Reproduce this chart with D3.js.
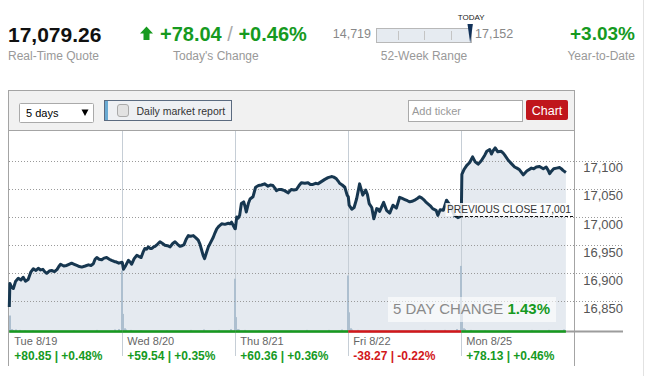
<!DOCTYPE html>
<meta charset="utf-8">
<style>
body { margin: 0; background: #fff; }
svg { display: block; font-family: "Liberation Sans", Arial, sans-serif; }
.grid line { stroke: #9a9a9a; stroke-dasharray: 1,2; shape-rendering: crispEdges; }
.yaxis text { fill: #555; font-size: 13px; }
.sub { fill: #999; font-size: 12px; }
.up { fill: #169a1f; }
.down { fill: #d2171b; }
</style>
<svg class="quote" width="648" height="376"></svg>

<script src="https://cdn.jsdelivr.net/npm/d3@7"></script>
<script>
var days = ["Tue 8/19", "Wed 8/20", "Thu 8/21", "Fri 8/22", "Mon 8/25"];
var dayChange = [80.85, 59.54, 60.36, -38.27, 78.13];
var dayPct = [0.48, 0.35, 0.36, -0.22, 0.46];
var priceTicks = [16850, 16900, 16950, 17000, 17050, 17100];
var prevClose = 17001.22;
var fiveDayPct = 1.43;

// [minutes after the 9:30 open, index level]
var tue = [[0,16840],[2,16882],[7,16876],[14,16873],[22,16886],[31,16891],[40,16888],[48,16893],[56,16886],[65,16889],[74,16902],[83,16908],[92,16905],[100,16909],[108,16906],[116,16907],[122,16903],[129,16900],[138,16904],[146,16905],[156,16903],[165,16907],[171,16912],[177,16916],[188,16913],[198,16914],[206,16916],[215,16918],[224,16916],[233,16914],[242,16912],[250,16911],[262,16913],[273,16915],[282,16914],[290,16917],[296,16925],[302,16928],[310,16925],[319,16924],[327,16927],[336,16928],[345,16925],[353,16923],[362,16921],[370,16920],[378,16918],[389,16919.6]];
var wed = [[0,16919],[4,16907],[12,16914],[21,16923],[27,16920],[32,16916],[41,16926],[50,16932],[57,16930],[65,16928],[72,16938],[78,16944],[84,16943],[90,16947],[96,16944],[102,16944],[108,16947],[113,16948],[122,16952],[130,16956],[139,16953],[147,16950],[156,16949],[165,16947],[174,16953],[182,16956],[190,16952],[199,16948],[206,16949],[213,16951],[220,16960],[228,16967],[236,16966],[245,16967],[254,16963],[262,16959],[268,16952],[274,16941],[279,16932],[284,16926],[290,16936],[297,16947],[305,16955],[314,16964],[320,16972],[326,16979],[334,16984],[343,16988],[354,16987],[366,16989],[372,16988],[377,16991],[383,16985],[389,16979]];
var thu = [[0,16979],[5,17000],[10,16998],[15,17003],[21,17024],[29,17027],[34,17018],[38,17009],[45,17024],[51,17032],[61,17036],[70,17053],[80,17056],[90,17057],[101,17059],[107,17057],[113,17055],[121,17057],[130,17056],[136,17052],[142,17047],[150,17049],[159,17049],[170,17047],[182,17043],[193,17049],[202,17048],[211,17049],[220,17056],[228,17061],[240,17060],[251,17061],[259,17058],[268,17058],[277,17060],[285,17059],[297,17063],[309,17067],[320,17070],[332,17072],[340,17071],[349,17068],[355,17064],[360,17060],[369,17057],[378,17053],[386,17039]];
var fri = [[0,17036],[3,17021],[12,17014],[20,17017],[29,17033],[39,17059],[44,17050],[50,17039],[60,17048],[66,17040],[72,17024],[81,17017],[88,16997],[98,17015],[103,17014],[108,17010],[115,17018],[122,17026],[132,17012],[143,17007],[154,17021],[166,17016],[172,17026],[177,17035],[186,17033],[195,17031],[204,17029],[212,17027],[220,17028],[229,17030],[238,17033],[246,17036],[253,17034],[260,17031],[267,17027],[274,17024],[283,17020],[291,17015],[303,17012],[309,17003],[317,17013],[328,17012],[339,17030],[347,17024],[355,17017],[366,17003],[378,16999],[387,17001.2]];
var mon = [[0,17003],[2,17076],[10,17085],[19,17092],[29,17097],[39,17107],[48,17098],[58,17094],[69,17100],[81,17110],[88,17117],[98,17120],[104,17112],[110,17118],[117,17123],[126,17116],[137,17117],[144,17114],[150,17110],[162,17101],[173,17095],[184,17089],[192,17087],[201,17084],[214,17075],[226,17082],[242,17087],[250,17086],[259,17089],[270,17090],[283,17086],[293,17089],[300,17083],[305,17077],[312,17082],[319,17086],[329,17087],[339,17088],[345,17086],[351,17083],[361,17079.3]];

// volume, 5-minute bars [minute, relative volume]
var tueVol = [[0,20],[5,3],[10,2],[20,2.5],[35,2],[50,1.5],[80,1.5],[140,1.5],[220,1.5],[300,2],[360,2.5],[375,3],[385,76]];
var wedVol = [[0,22],[5,4],[10,2.5],[25,2],[60,1.5],[150,1.5],[235,2],[280,2.5],[330,2],[370,3],[385,66]];
var thuVol = [[0,18],[5,3],[10,2.5],[30,2],[80,1.5],[190,1.5],[245,2],[320,2],[365,2.5],[385,70]];
var friVol = [[0,24],[5,4],[10,2.5],[30,2],[70,1.5],[170,1.5],[260,2],[330,2],[370,3],[385,82]];
var monVol = [[0,22],[5,4],[10,3],[30,2],[80,1.5],[160,1.5],[240,2],[300,2],[350,2.5]];

var svg = d3.select(".quote");
var fmt = d3.format(",.2f");
var green = "#169a1f", red = "#d2171b";

// ---------- header ----------
svg.append("text").attr("x", 8).attr("y", 42).style("font-size", "21px").style("font-weight", "bold")
  .attr("fill", "#111").text(fmt(17079.26));
svg.append("text").attr("class", "sub").attr("x", 8).attr("y", 60).text("Real-Time Quote");

svg.append("path").attr("d", "M140,33.5 L146.5,26.5 L153,33.5 L149.5,33.5 L149.5,40 L143.5,40 L143.5,33.5 Z").attr("fill", green);
var chg = svg.append("text").attr("x", 160).attr("y", 41).style("font-size", "20px").style("font-weight", "bold");
chg.append("tspan").attr("fill", green).text("+78.04");
chg.append("tspan").attr("fill", "#aaa").style("font-weight", "normal").text(" / ");
chg.append("tspan").attr("fill", green).text("+0.46%");
svg.append("text").attr("class", "sub").attr("x", 173).attr("y", 60).text("Today's Change");

// 52 week range
var rangeLow = 14719, rangeHigh = 17152, today = 17079.26;
var rx = d3.scaleLinear().domain([rangeLow, rangeHigh]).range([377, 471]);
svg.append("text").attr("x", 371).attr("y", 38).attr("text-anchor", "end").attr("fill", "#888").style("font-size", "12.5px").text(d3.format(",")(rangeLow));
svg.append("text").attr("x", 475).attr("y", 38).attr("fill", "#888").style("font-size", "12.5px").text(d3.format(",")(rangeHigh));
svg.append("rect").attr("x", 376.5).attr("y", 28.5).attr("width", 95).attr("height", 14).attr("fill", "#e6ebf1").attr("stroke", "#b8b8b8");
[0.23, 0.5, 0.78].forEach(function(f) {
  var xx = Math.round(376.5 + f * 95) + 0.5;
  svg.append("line").attr("x1", xx).attr("x2", xx).attr("y1", 31).attr("y2", 40).attr("stroke", "#c4c4c4");
});
var tx = rx(today) + 2;
svg.append("path").attr("d", "M" + (tx - 2.7) + ",24 L" + (tx + 2.7) + ",24 L" + tx + ",43 Z").attr("fill", "#12325a");
svg.append("text").attr("x", tx + 1).attr("y", 20).attr("text-anchor", "middle").attr("fill", "#222").style("font-size", "8px").text("TODAY");
svg.append("text").attr("class", "sub").attr("x", 424).attr("y", 60).attr("text-anchor", "middle").text("52-Week Range");

svg.append("text").attr("x", 635).attr("y", 40).attr("text-anchor", "end").attr("class", "up")
  .style("font-size", "19px").style("font-weight", "bold").text("+3.03%");
svg.append("text").attr("class", "sub").attr("x", 635).attr("y", 60).attr("text-anchor", "end").text("Year-to-Date");

svg.append("line").attr("x1", 643.5).attr("x2", 643.5).attr("y1", 0).attr("y2", 376).attr("stroke", "#e2e2e2");

// ---------- toolbar ----------
svg.append("rect").attr("x", 8.5).attr("y", 90.5).attr("width", 566).attr("height", 40).attr("fill", "#f1f1f1").attr("stroke", "#a4a4a4");
svg.append("rect").attr("x", 19.5).attr("y", 103.5).attr("width", 74).attr("height", 19).attr("fill", "#fff").attr("stroke", "#aaa").attr("rx", 1);
svg.append("text").attr("x", 26).attr("y", 117).style("font-size", "11px").attr("fill", "#000").text("5 days");
svg.append("path").attr("d", "M81.5,109.5 L88.5,109.5 L85,116 Z").attr("fill", "#000");

svg.append("rect").attr("x", 104.5).attr("y", 100.5).attr("width", 127).attr("height", 20).attr("fill", "#eef0f3").attr("stroke", "#5b6b80");
svg.append("rect").attr("x", 105).attr("y", 101).attr("width", 3).attr("height", 19).attr("fill", "#6aaad2");
svg.append("rect").attr("x", 117.5).attr("y", 104.5).attr("width", 11).attr("height", 12).attr("rx", 2.5).attr("fill", "#e2e2e2").attr("stroke", "#aaa");
svg.append("text").attr("x", 136.5).attr("y", 114.5).style("font-size", "10.5px").attr("fill", "#333").text("Daily market report");

svg.append("rect").attr("x", 408.5).attr("y", 100.5).attr("width", 114).attr("height", 21).attr("fill", "#fff").attr("stroke", "#aaa");
svg.append("text").attr("x", 412).attr("y", 115).style("font-size", "11px").attr("fill", "#999").text("Add ticker");
svg.append("rect").attr("x", 526).attr("y", 100).attr("width", 42).attr("height", 20).attr("rx", 2).attr("fill", "#c0161c");
svg.append("text").attr("x", 547).attr("y", 115).attr("text-anchor", "middle").style("font-size", "12.5px").attr("fill", "#fff").text("Chart");

// ---------- chart ----------
var plotTop = 131, plotBottom = 331.5;
var x = d3.scaleLinear().domain([0, 5 * 390]).range([9.3, 574.3]);
var y = d3.scaleLinear().domain([16796.5, 17153]).range([plotBottom, plotTop]);
var vy = d3.scaleLinear().domain([0, 100]).range([plotBottom, plotBottom - 80]);

var data = [tue, wed, thu, fri, mon].flatMap(function(d, i) {
  return d.map(function(p) { return {t: i * 390 + p[0], v: p[1]}; });
});
var vols = [tueVol, wedVol, thuVol, friVol, monVol].flatMap(function(d, i) {
  return d.map(function(p) { return {t: i * 390 + p[0], v: p[1]}; });
});

svg.append("line").attr("x1", 8.5).attr("x2", 8.5).attr("y1", plotTop).attr("y2", 366).attr("stroke", "#a4a4a4");
svg.append("line").attr("x1", 574.5).attr("x2", 574.5).attr("y1", plotTop).attr("y2", 366).attr("stroke", "#a4a4a4");

svg.append("path").datum(data)
  .attr("fill", "#e5eaf0")
  .attr("d", d3.area().x(function(d) { return x(d.t); }).y0(plotBottom).y1(function(d) { return y(d.v); }));

// day separators
svg.selectAll(".sep").data(d3.range(1, 5)).enter().append("line")
  .attr("x1", function(d) { return Math.round(x(d * 390)) + 0.5; })
  .attr("x2", function(d) { return Math.round(x(d * 390)) + 0.5; })
  .attr("y1", plotTop).attr("y2", 356).attr("stroke", "#c6ced6");

// volume
svg.selectAll(".vol").data(vols).enter().append("rect")
  .attr("x", function(d) { return Math.round(x(d.t)); })
  .attr("width", 2)
  .attr("y", function(d) { return vy(d.v); })
  .attr("height", function(d) { return plotBottom - vy(d.v); })
  .attr("fill", "#adbfcf");

// grid + axis
svg.append("g").attr("class", "grid")
  .selectAll("line").data(priceTicks).enter().append("line")
  .attr("x1", 9).attr("x2", 623)
  .attr("y1", function(d) { return Math.round(y(d)) + 0.5; })
  .attr("y2", function(d) { return Math.round(y(d)) + 0.5; });

var yAxis = svg.append("g").attr("class", "yaxis")
  .attr("transform", "translate(623,0)")
  .call(d3.axisLeft(y).tickValues(priceTicks).tickFormat(d3.format(",")).tickSize(0).tickPadding(0));
yAxis.select(".domain").remove();
yAxis.selectAll("text").attr("dy", "11px");

// price line
svg.append("path").datum(data)
  .attr("fill", "none")
  .attr("stroke", "#173750")
  .attr("stroke-width", 3)
  .attr("stroke-linejoin", "round")
  .attr("d", d3.line().x(function(d) { return x(d.t); }).y(function(d) { return y(d.v); }));

// previous close
var pcY = Math.round(y(prevClose)) + 0.5;
svg.append("line").attr("x1", 455).attr("x2", 574).attr("y1", pcY).attr("y2", pcY)
  .attr("stroke", "#111").attr("stroke-dasharray", "3,2");
svg.append("rect").attr("x", 445.5).attr("y", 203).attr("width", 123).attr("height", 13).attr("fill", "#fff").attr("fill-opacity", 0.85);
svg.append("text").attr("x", 447).attr("y", 212.7).style("font-size", "10.2px").attr("fill", "#333")
  .text("PREVIOUS CLOSE " + d3.format(",.0f")(prevClose));

// 5 day change
svg.append("rect").attr("x", 388).attr("y", 297).attr("width", 168).attr("height", 25).attr("fill", "#fff").attr("fill-opacity", 0.6);
var fd = svg.append("text").attr("x", 393).attr("y", 313.5).style("font-size", "15px");
fd.append("tspan").attr("fill", "#8a8a8a").text("5 DAY CHANGE ");
fd.append("tspan").attr("fill", green).style("font-weight", "bold").text(fiveDayPct.toFixed(2) + "%");

// baseline + daily up/down bars
svg.append("line").attr("x1", 9).attr("x2", 623).attr("y1", plotBottom).attr("y2", plotBottom).attr("stroke", "#9c9c9c").attr("stroke-width", 2);
var lastT = d3.max(data, function(d) { return d.t; });
svg.selectAll(".dayBar").data(days).enter().append("line")
  .attr("x1", function(d, i) { return x(i * 390); })
  .attr("x2", function(d, i) { return x(Math.min((i + 1) * 390, lastT)); })
  .attr("y1", plotBottom).attr("y2", plotBottom)
  .attr("stroke", function(d, i) { return dayChange[i] >= 0 ? green : red; })
  .attr("stroke-width", 2.5);

// day labels
var lbl = svg.selectAll(".dayLbl").data(days).enter().append("g")
  .attr("transform", function(d, i) { return "translate(" + (x(i * 390) + 5) + ",0)"; });
lbl.append("text").attr("y", 345).attr("fill", "#666").style("font-size", "11px").text(function(d) { return d; });
lbl.append("text").attr("y", 360).style("font-size", "12px").style("font-weight", "bold")
  .attr("fill", function(d, i) { return dayChange[i] >= 0 ? green : red; })
  .text(function(d, i) {
    var s = dayChange[i] >= 0 ? "+" : "";
    return s + dayChange[i].toFixed(2) + " | " + s + dayPct[i].toFixed(2) + "%";
  });
</script>
